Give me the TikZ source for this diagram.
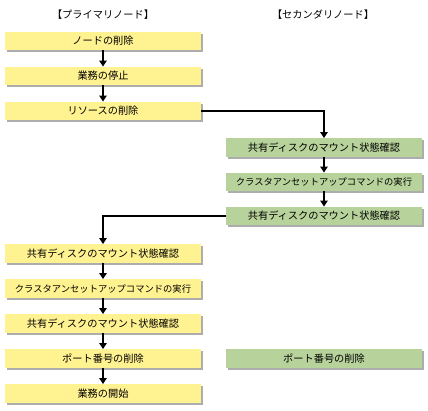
\documentclass[tikz,border=0pt]{standalone}
\usepackage{fontspec}
\newfontfamily\jpfont{Noto Sans CJK JP}
\usetikzlibrary{arrows.meta,shadows}
\definecolor{primfill}{RGB}{255,242,145}
\definecolor{secfill}{RGB}{183,211,155}
\begin{document}
\begin{tikzpicture}[
  x=1pt, y=-1pt,
  font=\jpfont\fontsize{10.2}{12}\selectfont,
  step box/.style={rectangle, minimum width=196pt, minimum height=18.5pt, inner sep=0pt,
    drop shadow={shadow xshift=2pt, shadow yshift=-2pt, fill=black!40, opacity=0.8}},
  pbox/.style={step box, fill=primfill},
  sbox/.style={step box, fill=secfill},
  longtext/.style={font=\jpfont\fontsize{9.3}{11}\selectfont},
  arr/.style={-{Triangle[length=6pt,width=7.5pt]}, line width=1.2pt}
]
  \useasboundingbox (0,0) rectangle (428,411);
  % Headers
  \node (hp) at (103,15) {【プライマリノード】};
  \node (hs) at (323,15) {【セカンダリノード】};

  % Nodes
  \node[pbox] (l1) at (103,41) {ノードの削除};
  \node[pbox] (l2) at (103,76) {業務の停止};
  \node[pbox] (l3) at (103,111) {リソースの削除};

  \node[sbox] (r1) at (324,147.5) {共有ディスクのマウント状態確認};
  \node[sbox, longtext] (r2) at (324,182) {クラスタアンセットアップコマンドの実行};
  \node[sbox] (r3) at (324,216) {共有ディスクのマウント状態確認};

  \node[pbox] (l4) at (103,253.5) {共有ディスクのマウント状態確認};
  \node[pbox, longtext] (l5) at (103,288.5) {クラスタアンセットアップコマンドの実行};
  \node[pbox] (l6) at (103,323.5) {共有ディスクのマウント状態確認};
  \node[pbox] (l7) at (103,358.5) {ポート番号の削除};
  \node[pbox] (l8) at (103,393.5) {業務の開始};

  \node[sbox] (r4) at (324,358.5) {ポート番号の削除};

  % Edges
  \draw[arr] (l1) -- (l2);
  \draw[arr] (l2) -- (l3);
  \draw[arr] (l3.east) -| (r1.north);
  \draw[arr] (r1) -- (r2);
  \draw[arr] (r2) -- (r3);
  \draw[arr] (r3.west) -| (l4.north);
  \draw[arr] (l4) -- (l5);
  \draw[arr] (l5) -- (l6);
  \draw[arr] (l6) -- (l7);
  \draw[arr] (l7) -- (l8);
\end{tikzpicture}
\end{document}
